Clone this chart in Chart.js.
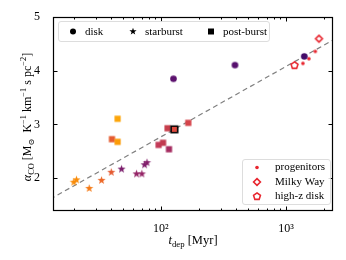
<!DOCTYPE html>
<html><head><meta charset="utf-8">
<script src="https://cdn.jsdelivr.net/npm/chart.js@4.4.0/dist/chart.umd.min.js"></script>
<style>html,body{margin:0;padding:0;background:#fff}</style>
</head><body>
<canvas id="c" width="346" height="260"></canvas>
<script>
// values
const diskX=[126,391,1402];
const diskY=[3.85,4.105,4.267];
const starX=[20.1,21.1,26.7,33.5,40.1,48.4,63.8,70.4,74,77.3];
const starY=[1.925,1.97,1.81,1.96,2.11,2.17,2.08,2.08,2.25,2.29];
const postX=[45,40.6,45,95.8,104,116,113,128,165.5];
const postY=[3.106,2.727,2.677,2.62,2.66,2.54,2.93,2.91,3.03];
const progX=[1368,1527,1718];
const progY=[4.137,4.224,4.36];
const mwX=[1837], mwY=[4.596];
const hzX=[1172], hzY=[4.099];
const fitX=[13,2500];
const fitY=[1.61,4.60];
const xTicks=[100,1000], xTickLabels=['10²','10³'];
const yTicks=[2,3,4,5];

const diskCol=['#5c126e','#57106e','#420a68'];
const starCol=['#f98c0a','#f98c0a','#f57b17','#ec6726','#e45a31','#7b1d6c','#952567','#952567','#7e1e6c','#841f6b'];
const postCol=['#fca50a','#e55c30','#fb9b06','#c33a58','#c13a50','#a52c60','#c73e4c','#dd4a3e','#d5444a'];
const red='#e8262f';
const FONT='"Liberation Serif","DejaVu Serif",serif';

function shapePath(c,shape,x,y,r){
  c.beginPath();
  if(shape==='circle'){c.arc(x,y,r,0,Math.PI*2);}
  else if(shape==='square'){c.rect(x-r,y-r,2*r,2*r);}
  else if(shape==='diamond'){c.moveTo(x,y-r);c.lineTo(x+r,y);c.lineTo(x,y+r);c.lineTo(x-r,y);c.closePath();}
  else {
    const n=shape==='star'?10:5;
    for(let i=0;i<n;i++){
      const a=-Math.PI/2+i*2*Math.PI/n;
      const rr=(shape==='star'&&i%2)?r*0.4:r;
      const px=x+rr*Math.cos(a),py=y+rr*Math.sin(a);
      i?c.lineTo(px,py):c.moveTo(px,py);
    }
    c.closePath();
  }
}
function drawMarker(c,shape,x,y,r,fill,stroke,lw){
  shapePath(c,shape,x,y,r);
  if(fill){c.fillStyle=fill;c.fill();}
  if(stroke){c.strokeStyle=stroke;c.lineWidth=lw;c.stroke();}
}
function makeImg(shape,r,fill,stroke,lw){
  const s=Math.ceil(2*r+(lw||0)+4);
  const cv=document.createElement('canvas');cv.width=s;cv.height=s;
  drawMarker(cv.getContext('2d'),shape,s/2,s/2,r,fill,stroke,lw);
  return cv;
}
const pts=(xs,ys)=>xs.map((x,i)=>({x:x,y:ys[i]}));

const diskImg=diskCol.map(c=>makeImg('circle',3.3,c));
const starImg=starCol.map(c=>makeImg('star',4.3,c));
const postImg=postCol.map((c,i)=>i===7?makeImg('square',3.3,c,'#000',1.6):makeImg('square',3.1,c));
const progImg=makeImg('circle',1.8,red);
const mwImg=makeImg('diamond',3.4,'#fff',red,1.6);
const hzImg=makeImg('pentagon',3.6,'#fff',red,1.6);

function fontFor(s,size){return (s.it?'italic ':'')+((s.sub||s.sup)?size*0.7:size)+'px '+FONT;}
function drawRich(c,segs,x,y,size){
  let w=0;
  segs.forEach(s=>{c.font=fontFor(s,size);w+=c.measureText(s.t).width;});
  let cx=x-w/2;
  c.textAlign='left';c.textBaseline='alphabetic';c.fillStyle='#000';
  segs.forEach(s=>{
    c.font=fontFor(s,size);
    const dy=s.sub?size*0.22:s.sup?-size*0.4:0;
    c.fillText(s.t,cx,y+dy);
    cx+=c.measureText(s.t).width;
  });
}

const decor={
  id:'decor',
  afterDraw(chart){
    const c=chart.ctx,a=chart.chartArea,xs=chart.scales.x,ys=chart.scales.y;
    c.save();
    c.strokeStyle='#000';c.lineWidth=1;
    // ticks inward on all sides
    const minors=[];
    for(let d=10;d<=1000;d*=10)for(let k=2;k<=9;k++){const v=d*k;if(v>xs.min&&v<xs.max)minors.push(v);}
    c.beginPath();
    minors.forEach(v=>{const p=Math.round(xs.getPixelForValue(v))+0.5;c.moveTo(p,a.bottom);c.lineTo(p,a.bottom-2.5);c.moveTo(p,a.top);c.lineTo(p,a.top+2.5);});
    xTicks.forEach(v=>{const p=Math.round(xs.getPixelForValue(v))+0.5;c.moveTo(p,a.bottom);c.lineTo(p,a.bottom-4.5);c.moveTo(p,a.top);c.lineTo(p,a.top+4.5);});
    yTicks.forEach(v=>{const p=Math.round(ys.getPixelForValue(v))+0.5;c.moveTo(a.left,p);c.lineTo(a.left+4.5,p);c.moveTo(a.right,p);c.lineTo(a.right-4.5,p);});
    c.stroke();
    c.lineWidth=1.2;
    c.strokeRect(a.left+0.5,a.top+0.5,a.right-a.left-1,a.bottom-a.top-1);

    // legends
    function box(x0,y0,x1,y1){
      c.beginPath();
      if(c.roundRect)c.roundRect(x0+0.5,y0+0.5,x1-x0,y1-y0,2.5);else c.rect(x0+0.5,y0+0.5,x1-x0,y1-y0);
      c.fillStyle='rgba(255,255,255,0.85)';c.fill();
      c.strokeStyle='#d4d4d4';c.lineWidth=0.8;c.stroke();
    }
    const LF='11px '+FONT;
    c.font=LF;c.textBaseline='middle';c.textAlign='left';
    box(58,21,269,41);
    const ly=31.5;
    drawMarker(c,'circle',73,ly,3,'#000');
    drawMarker(c,'star',133,ly,3.8,'#000');
    drawMarker(c,'square',211,ly,3,'#000');
    c.fillStyle='#000';
    c.fillText('disk',85,ly+0.5);c.fillText('starburst',145,ly+0.5);c.fillText('post-burst',223,ly+0.5);

    box(242,159,330,204);
    drawMarker(c,'circle',257,167.5,1.8,red);
    drawMarker(c,'diamond',257,182,3.4,null,red,1.6);
    drawMarker(c,'pentagon',257,196.5,3.6,null,red,1.6);
    c.fillStyle='#000';c.font=LF;c.textBaseline='middle';
    c.fillText('progenitors',275,167.5);c.fillText('Milky Way',275,182);c.fillText('high-z disk',275,196.5);

    // axis titles
    drawRich(c,[{t:'t',it:true},{t:'dep',sub:true},{t:' [Myr]'}],(a.left+a.right)/2,244,12.5);
    c.translate(31,117);c.rotate(-Math.PI/2);
    drawRich(c,[{t:'α',it:true},{t:'CO',sub:true},{t:' [M'},{t:'⊙',sub:true},{t:'  K'},{t:'−1',sup:true},{t:' km'},{t:'−1',sup:true},{t:' s pc'},{t:'−2',sup:true},{t:']'}],0,0,12);
    c.restore();
  }
};

new Chart(document.getElementById('c'),{
  type:'scatter',
  data:{datasets:[
    {label:'disk',data:pts(diskX,diskY),pointStyle:ctx=>diskImg[ctx.dataIndex],order:1},
    {label:'starburst',data:pts(starX,starY),pointStyle:ctx=>starImg[ctx.dataIndex],order:2},
    {label:'post-burst',data:pts(postX,postY),pointStyle:ctx=>postImg[ctx.dataIndex],order:2},
    {label:'progenitors',data:pts(progX,progY),pointStyle:progImg,order:3},
    {label:'Milky Way',data:pts(mwX,mwY),pointStyle:mwImg,order:1},
    {label:'high-z disk',data:pts(hzX,hzY),pointStyle:hzImg,order:1},
    {label:'fit',type:'line',data:pts(fitX,fitY),showLine:true,borderColor:'#808080',borderWidth:1.2,borderDash:[5,3.5],pointRadius:0,order:4}
  ]},
  options:{
    responsive:false,animation:false,
    layout:{padding:{top:17,right:13,left:0,bottom:0}},
    plugins:{legend:{display:false},tooltip:{enabled:false}},
    scales:{
      x:{type:'logarithmic',min:13.7,max:2380,
        grid:{display:false},border:{display:false},
        afterFit:s=>{s.height=49;},
        afterBuildTicks:s=>{s.ticks=xTicks.map(v=>({value:v}));},
        ticks:{padding:3,color:'#000',font:{family:FONT,size:12},autoSkip:false,maxRotation:0,
          callback:v=>xTickLabels[xTicks.indexOf(v)]||''}},
      y:{type:'linear',min:1.39,max:5,
        grid:{display:false},border:{display:false},
        afterFit:s=>{s.width=53;},
        afterBuildTicks:s=>{s.ticks=yTicks.map(v=>({value:v}));},
        ticks:{padding:5,color:'#000',font:{family:FONT,size:12},callback:v=>String(v)}}
    }
  },
  plugins:[decor]
});
</script>
</body></html>
